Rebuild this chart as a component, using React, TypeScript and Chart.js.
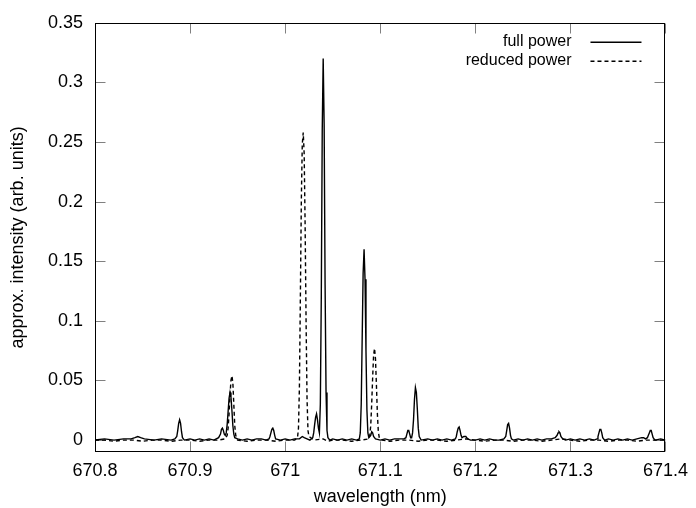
import React, { useEffect, useRef } from "react";
import { Chart, registerables } from "chart.js";

Chart.register(...registerables);

// wavelength (nm), approx. intensity (arb. units)
const fullPower: [number, number][] = [
  [670.8, 0.0], [670.81, 0.001], [670.82, 0.0], [670.83, 0.001], [670.838, 0.001],
  [670.842, 0.002], [670.845, 0.003], [670.848, 0.002], [670.852, 0.001], [670.862, 0.0],
  [670.87, 0.001], [670.88, 0.0], [670.884, 0.001],
  [670.886, 0.003], [670.887, 0.008], [670.888, 0.014], [670.889, 0.017], [670.89, 0.014],
  [670.891, 0.007], [670.892, 0.002], [670.894, 0.0], [670.9, 0.001], [670.905, 0.0],
  [670.91, 0.001], [670.915, 0.0], [670.92, 0.001], [670.925, 0.0], [670.93, 0.002],
  [670.932, 0.005], [670.933, 0.009], [670.934, 0.01], [670.935, 0.008], [670.936, 0.005],
  [670.937, 0.004], [670.938, 0.006], [670.939, 0.013], [670.94, 0.024], [670.941, 0.035],
  [670.942, 0.04], [670.943, 0.036], [670.944, 0.025], [670.945, 0.012], [670.946, 0.005],
  [670.947, 0.002], [670.95, 0.001], [670.955, 0.0], [670.96, 0.001], [670.965, 0.0],
  [670.97, 0.001], [670.975, 0.001], [670.98, 0.0], [670.983, 0.001],
  [670.984, 0.003], [670.985, 0.006], [670.986, 0.009], [670.987, 0.01], [670.988, 0.008],
  [670.989, 0.004], [670.99, 0.001], [670.995, 0.0], [671.0, 0.001], [671.005, 0.0],
  [671.01, 0.001], [671.015, 0.001], [671.018, 0.003], [671.02, 0.002], [671.023, 0.001],
  [671.026, 0.0], [671.029, 0.002],
  [671.03, 0.006], [671.031, 0.013], [671.032, 0.019], [671.033, 0.022], [671.034, 0.017],
  [671.035, 0.01], [671.036, 0.006], [671.037, 0.03], [671.038, 0.12], [671.039, 0.26],
  [671.04, 0.32], [671.041, 0.265], [671.042, 0.13], [671.043, 0.04], [671.044, 0.008],
  [671.045, 0.002], [671.047, 0.0], [671.05, 0.001], [671.055, 0.0], [671.06, 0.001],
  [671.065, 0.0], [671.07, 0.001], [671.075, 0.0], [671.078, 0.001],
  [671.079, 0.006], [671.08, 0.03], [671.081, 0.085], [671.082, 0.14], [671.083, 0.16],
  [671.084, 0.135], [671.085, 0.075], [671.086, 0.025], [671.087, 0.006], [671.088, 0.002],
  [671.09, 0.004], [671.091, 0.007], [671.092, 0.006], [671.093, 0.003], [671.095, 0.001],
  [671.1, 0.0], [671.105, 0.001], [671.11, 0.0], [671.115, 0.001], [671.12, 0.001],
  [671.125, 0.001], [671.127, 0.002], [671.128, 0.005], [671.129, 0.008], [671.13, 0.008],
  [671.131, 0.005], [671.132, 0.002], [671.133, 0.002],
  [671.134, 0.006], [671.135, 0.017], [671.136, 0.034], [671.137, 0.044], [671.138, 0.04],
  [671.139, 0.026], [671.14, 0.01], [671.141, 0.003], [671.143, 0.0], [671.15, 0.001],
  [671.155, 0.0], [671.16, 0.001], [671.165, 0.0], [671.17, 0.001], [671.175, 0.0],
  [671.179, 0.001], [671.18, 0.003], [671.181, 0.007], [671.182, 0.01], [671.183, 0.011],
  [671.184, 0.008], [671.185, 0.004], [671.186, 0.002], [671.188, 0.003], [671.19, 0.003],
  [671.192, 0.001], [671.195, 0.0], [671.2, 0.0], [671.205, 0.001], [671.21, 0.0],
  [671.215, 0.001], [671.22, 0.0], [671.225, 0.0], [671.23, 0.001],
  [671.232, 0.003], [671.233, 0.008], [671.234, 0.013], [671.235, 0.014], [671.236, 0.01],
  [671.237, 0.004], [671.238, 0.001], [671.24, 0.0], [671.245, 0.001], [671.25, 0.0],
  [671.255, 0.001], [671.26, 0.0], [671.265, 0.001], [671.27, 0.0], [671.275, 0.001],
  [671.28, 0.001], [671.284, 0.002], [671.286, 0.004], [671.287, 0.006], [671.288, 0.007],
  [671.289, 0.006], [671.29, 0.003], [671.292, 0.001], [671.295, 0.0], [671.3, 0.001],
  [671.305, 0.0], [671.31, 0.001], [671.315, 0.0], [671.32, 0.001], [671.325, 0.0],
  [671.328, 0.001], [671.329, 0.003], [671.33, 0.006], [671.331, 0.009], [671.332, 0.009],
  [671.333, 0.006], [671.334, 0.002], [671.336, 0.0], [671.34, 0.001], [671.345, 0.0],
  [671.35, 0.001], [671.355, 0.0], [671.36, 0.001], [671.365, 0.0], [671.37, 0.001],
  [671.375, 0.002], [671.377, 0.002], [671.379, 0.001], [671.381, 0.002], [671.382, 0.004],
  [671.383, 0.006], [671.384, 0.008], [671.385, 0.008], [671.386, 0.005], [671.387, 0.002],
  [671.389, 0.0], [671.395, 0.001], [671.4, 0.0],
];

const reducedPower: [number, number][] = [
  [670.8, 0.0], [670.81, 0.0], [670.82, -0.001], [670.83, 0.0], [670.84, 0.0],
  [670.85, -0.001], [670.86, 0.0], [670.87, 0.0], [670.88, -0.001], [670.89, 0.0],
  [670.9, 0.0], [670.91, -0.001], [670.92, 0.0], [670.93, 0.0], [670.937, 0.001],
  [670.939, 0.004], [670.94, 0.01], [670.941, 0.022], [670.942, 0.038], [670.943, 0.05],
  [670.944, 0.054], [670.945, 0.048], [670.946, 0.03], [670.947, 0.012], [670.948, 0.004],
  [670.95, 0.0], [670.96, -0.001], [670.97, 0.0], [670.98, 0.0], [670.99, -0.001],
  [671.0, 0.0], [671.01, 0.0], [671.013, 0.002], [671.014, 0.01], [671.015, 0.045],
  [671.016, 0.12], [671.017, 0.2], [671.018, 0.248], [671.019, 0.258], [671.02, 0.24],
  [671.021, 0.18], [671.022, 0.1], [671.023, 0.035], [671.024, 0.008], [671.025, 0.003],
  [671.027, 0.002], [671.03, 0.0], [671.04, 0.001], [671.045, -0.001], [671.05, 0.0],
  [671.06, 0.0], [671.07, -0.001], [671.08, 0.0], [671.088, 0.001], [671.089, 0.004],
  [671.09, 0.012], [671.091, 0.03], [671.092, 0.052], [671.093, 0.071], [671.094, 0.077],
  [671.095, 0.068], [671.096, 0.046], [671.097, 0.022], [671.098, 0.007], [671.099, 0.002],
  [671.102, 0.0], [671.11, -0.001], [671.12, 0.0], [671.13, 0.0], [671.14, -0.001],
  [671.15, 0.0], [671.16, 0.0], [671.17, -0.001], [671.18, 0.0], [671.19, 0.001],
  [671.2, 0.0], [671.21, -0.001], [671.22, 0.0], [671.23, 0.0], [671.24, -0.001],
  [671.25, 0.0], [671.26, 0.0], [671.27, -0.001], [671.28, 0.0], [671.29, 0.001],
  [671.3, 0.0], [671.31, -0.001], [671.32, 0.0], [671.33, 0.0], [671.34, -0.001],
  [671.35, 0.0], [671.36, 0.0], [671.37, -0.001], [671.38, 0.0], [671.39, 0.0],
  [671.4, 0.0],
];

const xTicks = [670.8, 670.9, 671.0, 671.1, 671.2, 671.3, 671.4];
const yTicks = [0, 0.05, 0.1, 0.15, 0.2, 0.25, 0.3, 0.35];
const seriesLabels = ["full power", "reduced power"];
const xTitle = "wavelength (nm)";
const yTitle = "approx. intensity (arb. units)";

const FONT = "'Liberation Sans', Arial, Helvetica, sans-serif";

const framePlugin = {
  id: "gnuplotFrame",
  beforeDatasetsDraw(chart: any) {
    const { ctx, chartArea: a, scales } = chart;
    const L = Math.round(a.left) + 0.5;
    const R = Math.round(a.right) - 0.5;
    const T = Math.round(a.top) + 0.5;
    const B = Math.round(a.bottom) - 0.5;
    ctx.save();
    ctx.lineWidth = 1;
    ctx.strokeStyle = "#808080";
    const tl = 10;
    ctx.beginPath();
    for (const v of xTicks) {
      const px = Math.round(scales.x.getPixelForValue(v)) + 0.5;
      ctx.moveTo(px, B);
      ctx.lineTo(px, B - tl);
      ctx.moveTo(px, T);
      ctx.lineTo(px, T + tl);
    }
    for (const v of yTicks) {
      const py = Math.round(scales.y.getPixelForValue(v)) + 0.5;
      ctx.moveTo(L, py);
      ctx.lineTo(L + tl, py);
      ctx.moveTo(R, py);
      ctx.lineTo(R - tl, py);
    }
    ctx.stroke();
    ctx.strokeStyle = "#000";
    ctx.strokeRect(L, T, R - L, B - T);
    ctx.restore();
  },
  afterDatasetsDraw(chart: any) {
    const { ctx, chartArea: a } = chart;
    ctx.save();
    ctx.font = `16px ${FONT}`;
    ctx.fillStyle = "#000";
    ctx.textAlign = "right";
    ctx.textBaseline = "middle";
    const textRight = a.right - 94;
    const x0 = a.right - 75;
    const x1 = a.right - 24;
    const rows = [a.top + 19, a.top + 38];
    seriesLabels.forEach((lab, i) => {
      const y = rows[i];
      ctx.fillText(lab, textRight, y);
      ctx.beginPath();
      ctx.lineWidth = 1.4;
      ctx.strokeStyle = "#000";
      ctx.setLineDash(i === 0 ? [] : [4, 3]);
      ctx.moveTo(x0, y + 0.5);
      ctx.lineTo(x1, y + 0.5);
      ctx.stroke();
    });
    ctx.restore();
  },
};

export default function App() {
  const ref = useRef<HTMLCanvasElement | null>(null);
  useEffect(() => {
    document.body.style.margin = "0";
    const canvas = ref.current;
    if (!canvas) return;
    const chart = new Chart(canvas, {
      type: "line",
      data: {
        datasets: [
          {
            label: seriesLabels[0],
            data: fullPower.map(([x, y]) => ({ x, y })),
            borderColor: "#000",
            borderWidth: 1.4,
            pointRadius: 0,
            tension: 0,
            fill: false,
          },
          {
            label: seriesLabels[1],
            data: reducedPower.map(([x, y]) => ({ x, y })),
            borderColor: "#000",
            borderWidth: 1.4,
            borderDash: [4, 3],
            pointRadius: 0,
            tension: 0,
            fill: false,
          },
        ],
      },
      options: {
        responsive: false,
        animation: false,
        devicePixelRatio: 1,
        layout: { padding: { top: 21, right: 25, left: 0, bottom: 0 } },
        plugins: { legend: { display: false }, tooltip: { enabled: false } },
        scales: {
          x: {
            type: "linear",
            min: 670.8,
            max: 671.4,
            grid: { display: false, drawTicks: false, tickLength: 0 },
            border: { display: false },
            afterBuildTicks: (s: any) => {
              s.ticks = xTicks.map((v) => ({ value: v }));
            },
            afterFit: (s: any) => {
              s.height = 56;
            },
            ticks: {
              autoSkip: false,
              maxRotation: 0,
              padding: 8,
              color: "#000",
              font: { family: FONT, size: 18 },
              callback: (v: any) => String(parseFloat(Number(v).toFixed(1))),
            },
            title: {
              display: true,
              text: xTitle,
              color: "#000",
              font: { family: FONT, size: 18 },
              padding: { top: 0, bottom: 0 },
            },
          },
          y: {
            type: "linear",
            min: -0.01,
            max: 0.35,
            grid: { display: false, drawTicks: false, tickLength: 0 },
            border: { display: false },
            afterBuildTicks: (s: any) => {
              s.ticks = yTicks.map((v) => ({ value: v }));
            },
            afterFit: (s: any) => {
              s.width = 95;
            },
            ticks: {
              autoSkip: false,
              padding: 12,
              color: "#000",
              font: { family: FONT, size: 18 },
              callback: (v: any) => String(parseFloat(Number(v).toFixed(2))),
            },
            title: {
              display: true,
              text: yTitle,
              color: "#000",
              font: { family: FONT, size: 18 },
              padding: { top: 7, bottom: 0 },
            },
          },
        },
      },
      plugins: [framePlugin],
    });
    return () => chart.destroy();
  }, []);
  return <canvas ref={ref} width={696} height={508} style={{ display: "block" }} />;
}
